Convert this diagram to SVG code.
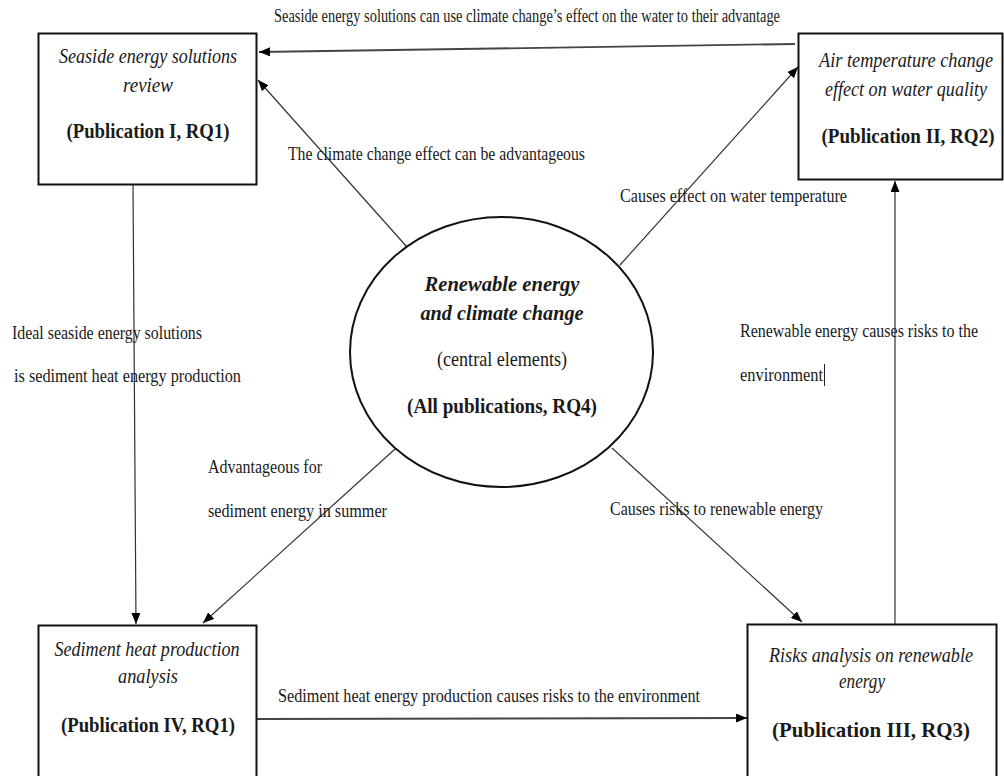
<svg xmlns="http://www.w3.org/2000/svg" width="1004" height="776" viewBox="0 0 1004 776">
  <style>
    .box { fill: #fff; stroke: #111; stroke-width: 2; }
    .conn { fill: none; stroke: #333; stroke-width: 1.2; }
    .conn-thick { fill: none; stroke: #444; stroke-width: 1.8; }
    text { font-family: "Liberation Serif", "Times New Roman", serif; fill: #1a1a1a; }
    .lbl { font-size: 19.5px; }
    .title { font-size: 22px; font-style: italic; text-anchor: middle; }
    .pub { font-size: 22px; font-weight: bold; text-anchor: middle; }
    .mid { font-size: 21px; text-anchor: middle; }
  </style>
  <defs>
    <marker id="arrow" markerUnits="userSpaceOnUse" markerWidth="11" markerHeight="9" refX="11" refY="4.5" orient="auto">
      <path d="M0,0 L11,4.5 L0,9 z" fill="#000"/>
    </marker>
  </defs>

  <rect width="1004" height="776" fill="#fff"/>

  <!-- connectors and their labels -->
  <g id="connectors" font-family="Liberation Serif, serif">
    <path class="conn-thick" d="M795,44 L259,52" marker-end="url(#arrow)"/>
    <path class="conn" d="M407,247 L258,80" marker-end="url(#arrow)"/>
    <path class="conn" d="M620,265 L798,67" marker-end="url(#arrow)"/>
    <path class="conn" d="M133,185 L136,624" marker-end="url(#arrow)"/>
    <path class="conn" d="M395,449 L203,623" marker-end="url(#arrow)"/>
    <path class="conn" d="M612,448 L802,622" marker-end="url(#arrow)"/>
    <path class="conn-thick" d="M257,719 L747,718" marker-end="url(#arrow)"/>
    <path class="conn" d="M895,624 L895,181" marker-end="url(#arrow)"/>

    <text class="lbl" x="274" y="22" textLength="506" lengthAdjust="spacingAndGlyphs">Seaside energy solutions can use climate change’s effect on the water to their advantage</text>
    <text class="lbl" x="288" y="160" textLength="297" lengthAdjust="spacingAndGlyphs">The climate change effect can be advantageous</text>
    <text class="lbl" x="620" y="202" textLength="227" lengthAdjust="spacingAndGlyphs">Causes effect on water temperature</text>
    <text class="lbl" x="12" y="339" textLength="190" lengthAdjust="spacingAndGlyphs">Ideal seaside energy solutions</text>
    <text class="lbl" x="14" y="382" textLength="227" lengthAdjust="spacingAndGlyphs">is sediment heat energy production</text>
    <text class="lbl" x="740" y="337" textLength="238" lengthAdjust="spacingAndGlyphs">Renewable energy causes risks to the</text>
    <text class="lbl" x="740" y="381" textLength="83" lengthAdjust="spacingAndGlyphs">environment</text>
    <line x1="824.5" y1="364" x2="824.5" y2="386" stroke="#222" stroke-width="1"/>
    <text class="lbl" x="208" y="473" textLength="114" lengthAdjust="spacingAndGlyphs">Advantageous for</text>
    <text class="lbl" x="208" y="517" textLength="179" lengthAdjust="spacingAndGlyphs">sediment energy in summer</text>
    <text class="lbl" x="610" y="515" textLength="213" lengthAdjust="spacingAndGlyphs">Causes risks to renewable energy</text>
    <text class="lbl" x="278" y="702" textLength="422" lengthAdjust="spacingAndGlyphs">Sediment heat energy production causes risks to the environment</text>
  </g>

  <!-- central ellipse -->
  <g id="central" font-family="Liberation Serif, serif">
    <ellipse cx="501.5" cy="352" rx="151.5" ry="135" fill="#fff" stroke="#111" stroke-width="2"/>
    <text class="mid" x="502" y="291" font-weight="bold" font-style="italic" textLength="155" lengthAdjust="spacingAndGlyphs">Renewable energy</text>
    <text class="mid" x="502" y="320" font-weight="bold" font-style="italic" textLength="163" lengthAdjust="spacingAndGlyphs">and climate change</text>
    <text class="mid" x="502" y="366" textLength="130" lengthAdjust="spacingAndGlyphs">(central elements)</text>
    <text class="mid" x="502" y="413" font-weight="bold" textLength="190" lengthAdjust="spacingAndGlyphs">(All publications, RQ4)</text>
  </g>

  <!-- Publication I -->
  <g id="pub1" font-family="Liberation Serif, serif">
    <rect class="box" x="38.5" y="33.5" width="218" height="151"/>
    <text class="title" x="148" y="63" textLength="178" lengthAdjust="spacingAndGlyphs">Seaside energy solutions</text>
    <text class="title" x="148" y="92" textLength="50" lengthAdjust="spacingAndGlyphs">review</text>
    <text class="pub" x="148" y="138" textLength="163" lengthAdjust="spacingAndGlyphs">(Publication I, RQ1)</text>
  </g>

  <!-- Publication II -->
  <g id="pub2" font-family="Liberation Serif, serif">
    <rect class="box" x="798.5" y="33.5" width="204" height="146"/>
    <text class="title" x="906" y="67" textLength="174" lengthAdjust="spacingAndGlyphs">Air temperature change</text>
    <text class="title" x="906" y="96" textLength="162" lengthAdjust="spacingAndGlyphs">effect on water quality</text>
    <text class="pub" x="908" y="143" textLength="173" lengthAdjust="spacingAndGlyphs">(Publication II, RQ2)</text>
  </g>

  <!-- Publication IV -->
  <g id="pub4" font-family="Liberation Serif, serif">
    <rect class="box" x="38.5" y="625.5" width="218" height="160"/>
    <text class="title" x="147" y="656" textLength="185" lengthAdjust="spacingAndGlyphs">Sediment heat production</text>
    <text class="title" x="148" y="683" textLength="60" lengthAdjust="spacingAndGlyphs">analysis</text>
    <text class="pub" x="148" y="732" textLength="174" lengthAdjust="spacingAndGlyphs">(Publication IV, RQ1)</text>
  </g>

  <!-- Publication III -->
  <g id="pub3" font-family="Liberation Serif, serif">
    <rect class="box" x="747.5" y="624.5" width="249" height="160"/>
    <text class="title" x="871" y="662" textLength="204" lengthAdjust="spacingAndGlyphs">Risks analysis on renewable</text>
    <text class="title" x="862" y="688" textLength="46" lengthAdjust="spacingAndGlyphs">energy</text>
    <text class="pub" x="871" y="737" textLength="198" lengthAdjust="spacingAndGlyphs">(Publication III, RQ3)</text>
  </g>
</svg>
